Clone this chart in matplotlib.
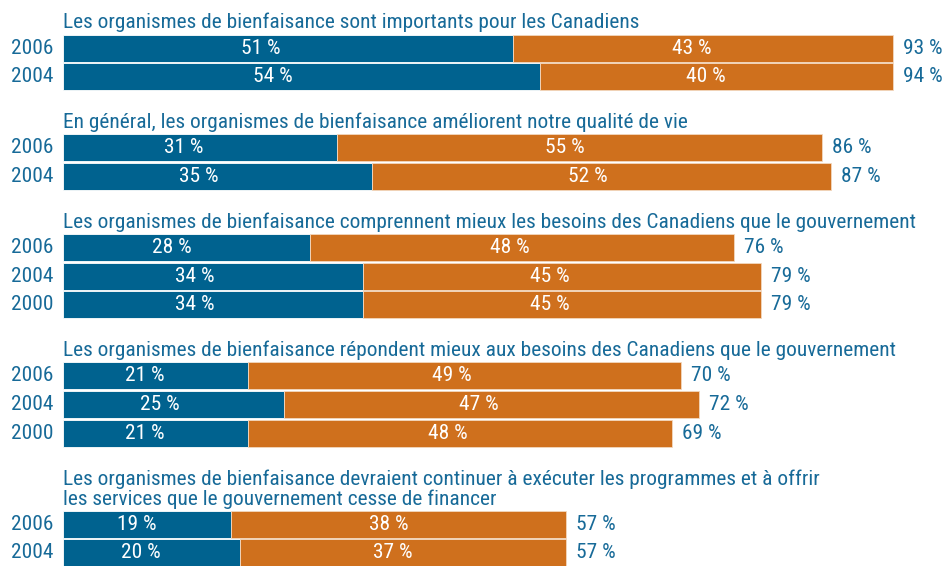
import matplotlib
matplotlib.use("Agg")
import matplotlib.pyplot as plt
from matplotlib import font_manager as fm
from matplotlib.textpath import TextPath

titles = [
    ["Les organismes de bienfaisance sont importants pour les Canadiens"],
    ["En général, les organismes de bienfaisance améliorent notre qualité de vie"],
    ["Les organismes de bienfaisance comprennent mieux les besoins des Canadiens que le gouvernement"],
    ["Les organismes de bienfaisance répondent mieux aux besoins des Canadiens que le gouvernement"],
    ["Les organismes de bienfaisance devraient continuer à exécuter les programmes et à offrir",
     "les services que le gouvernement cesse de financer"],
]
years = [
    ["2006", "2004"],
    ["2006", "2004"],
    ["2006", "2004", "2000"],
    ["2006", "2004", "2000"],
    ["2006", "2004"],
]
strongly = [
    [51, 54],
    [31, 35],
    [28, 34, 34],
    [21, 25, 21],
    [19, 20],
]
somewhat = [
    [43, 40],
    [55, 52],
    [48, 45, 45],
    [49, 47, 48],
    [38, 37],
]
totals = [
    [93, 94],
    [86, 87],
    [76, 79, 79],
    [70, 72, 69],
    [57, 57],
]

BLUE = "#00628f"
ORANGE = "#cf701d"
TEXT = "#176a98"

W, H = 950, 566
PX = 8.83     # pixels per percent
X0 = 63       # left of bars in pixels


def pick_font():
    names = ["Liberation Sans Narrow", "Roboto Condensed", "Open Sans Condensed",
             "Noto Sans Condensed"]
    for n in names:
        for f in fm.fontManager.ttflist:
            if f.name == n and f.weight in (400, "normal", "regular") and f.style == "normal":
                return fm.FontProperties(fname=f.fname)
    for f in fm.fontManager.ttflist:
        if f.name == "DejaVu Sans" and f.stretch == "condensed" and f.style == "normal" \
                and f.weight in (400, "normal", "book", "regular"):
            return fm.FontProperties(fname=f.fname)
    for f in fm.fontManager.ttflist:
        if "Condensed" in f.fname and "DejaVuSans" in f.fname and "Bold" not in f.fname \
                and "Oblique" not in f.fname:
            return fm.FontProperties(fname=f.fname)
    return fm.FontProperties(family="DejaVu Sans")


FP = pick_font()
# fit size so that the third title is ~854 px wide (as in the reference)
tp = TextPath((0, 0), titles[2][0], size=10, prop=FP)
ext = tp.get_extents()
FS = 10 * 854 / ext.width * 72 / 100
FS = max(9, min(FS, 17))

fig = plt.figure(figsize=(W / 100, H / 100), dpi=100)
ax = fig.add_axes([0, 0, 1, 1])
ax.set_xlim(-X0 / PX, (W - X0) / PX)
ax.set_ylim(H, 0)
ax.axis("off")


def txt(x, y, s, **kw):
    p = FP.copy()
    p.set_size(FS)
    ax.text(x, y, s, fontproperties=p, **kw)


pitch = 28.7
bar_h = 27
y = 48
for g in range(len(titles)):
    if g > 0:
        y += 71 + 20 * (len(titles[g]) - 1)
    first = y
    nlines = len(titles[g])
    for i, line in enumerate(titles[g]):
        txt(0, first - 19.5 - 20 * (nlines - 1 - i), line, color=TEXT, ha="left", va="baseline")
    for r in range(len(years[g])):
        yc = first + r * pitch
        b = strongly[g][r]
        o = somewhat[g][r]
        ax.barh(yc, b, height=bar_h, left=0, color=BLUE, edgecolor="white", linewidth=0.6)
        ax.barh(yc, o, height=bar_h, left=b, color=ORANGE, edgecolor="#f3d8bf", linewidth=0.6)
        txt(b * 0.44, yc, f"{b} %", color="white", ha="center", va="center")
        txt(b + o * 0.47, yc, f"{o} %", color="white", ha="center", va="center")
        txt(b + o + 10 / PX, yc, f"{totals[g][r]} %", color=TEXT, ha="left", va="center")
        txt(-10 / PX, yc, years[g][r], color=TEXT, ha="right", va="center")
    y = first + (len(years[g]) - 1) * pitch

fig.savefig("out.png", dpi=100)
